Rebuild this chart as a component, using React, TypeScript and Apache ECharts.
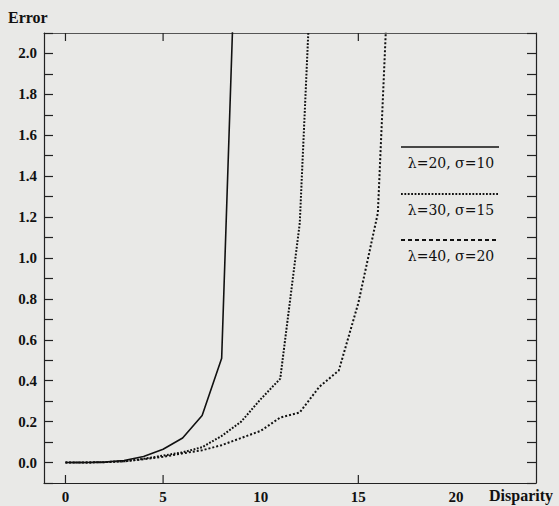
import React, { useEffect, useRef } from 'react';
import * as echarts from 'echarts';

// Disparity values (x) shared by all curves
const disparity = [0, 1, 2, 3, 4, 5, 6, 7, 8, 9, 10, 11, 12, 13, 14, 15, 16, 17];

// Error values (last points run off the top and are clipped)
const errL20 = [0, 0, 0.002, 0.01, 0.03, 0.065, 0.12, 0.23, 0.51, 3.4];
const errL30 = [0, 0, 0.002, 0.006, 0.018, 0.034, 0.05, 0.075, 0.13, 0.2, 0.31, 0.41, 1.17, 3.3];
const errL40 = [0, 0, 0.002, 0.006, 0.016, 0.028, 0.045, 0.06, 0.085, 0.12, 0.155, 0.22, 0.245, 0.37, 0.45, 0.78, 1.22, 3.4];

const seriesNames = ['λ=20, σ=10', 'λ=30, σ=15', 'λ=40, σ=20'];
const xLabelValues = [0, 5, 10, 15, 20];
const xTickValues = [0, 5, 15];

const X_MIN = -1.1;
const X_MAX = 24.1;
const Y_MIN = -0.1;
const Y_MAX = 2.1;

const toPairs = (vals: number[]) => vals.map((v, i) => [disparity[i], v]);

const labelFont = {
  fontFamily: '"Liberation Serif", serif',
  fontWeight: 'bold' as const,
  fontSize: 15,
  color: '#111',
};

export default function App() {
  const ref = useRef<HTMLDivElement>(null);
  useEffect(() => {
    const chart = echarts.init(ref.current!, null, { renderer: 'svg' });
    const lineStyles = [
      { color: '#111', width: 1.6, type: 'solid' as any },
      { color: '#111', width: 2, type: [1.8, 1.6] as any },
      { color: '#111', width: 2, type: [2, 2] as any },
    ];
    const legendDash: any[] = [null, [1.8, 1.6], [4, 3]];
    const legendY = [147, 194, 240];
    const graphics: any[] = [
      {
        type: 'text', x: 8, y: 17,
        style: { text: 'Error', fontFamily: '"Liberation Serif", serif', fontWeight: 'bold', fontSize: 16, fill: '#111', verticalAlign: 'middle', align: 'left' },
      },
      {
        type: 'text', x: 489, y: 495,
        style: { text: 'Disparity', fontFamily: '"Liberation Serif", serif', fontWeight: 'bold', fontSize: 16, fill: '#111', verticalAlign: 'middle', align: 'left' },
      },
    ];
    seriesNames.forEach((name, i) => {
      graphics.push({
        type: 'line',
        shape: { x1: 401, y1: legendY[i], x2: 499, y2: legendY[i] },
        style: { stroke: '#111', lineWidth: i === 0 ? 1.6 : 2, lineDash: legendDash[i] || undefined },
      });
      graphics.push({
        type: 'text', x: 451, y: legendY[i] + 16,
        style: { text: name, fontFamily: '"DejaVu Serif", serif', fontSize: 14, fill: '#111', align: 'center', verticalAlign: 'middle' },
      });
    });

    const yCommon = {
      type: 'value' as const,
      min: Y_MIN,
      max: Y_MAX,
      interval: 0.1,
      axisLine: { show: true, onZero: false, lineStyle: { color: '#222', width: 1.2 } },
      axisTick: { show: true, inside: true, length: 9, lineStyle: { color: '#222', width: 1.2 } },
      splitLine: { show: false },
    };
    const xMain = {
      type: 'value' as const,
      min: X_MIN,
      max: X_MAX,
      axisLine: { show: true, onZero: false, lineStyle: { color: '#222', width: 1.2 } },
      axisTick: { show: false },
      splitLine: { show: false },
    };

    // x-axis tick marks (bottom & top, pointing inward), placed via the axis scale
    const tickSeries = {
      type: 'custom',
      silent: true,
      clip: false,
      xAxisIndex: 0,
      yAxisIndex: 0,
      data: xTickValues.map((v) => [v]),
      encode: { x: 0 },
      renderItem: (_params: any, api: any) => {
        const b = api.coord([api.value(0), Y_MIN]);
        const t = api.coord([api.value(0), Y_MAX]);
        const st = { stroke: '#222', lineWidth: 1.2 };
        return {
          type: 'group',
          children: [
            { type: 'line', shape: { x1: b[0], y1: b[1], x2: b[0], y2: b[1] - 8 }, style: st },
            { type: 'line', shape: { x1: t[0], y1: t[1], x2: t[0], y2: t[1] + 8 }, style: st },
          ],
        };
      },
    };

    chart.setOption({
      animation: false,
      backgroundColor: '#e9e9e7',
      grid: { left: 44, right: 23, top: 33, bottom: 23, containLabel: false },
      xAxis: [
        {
          ...xMain,
          position: 'bottom',
          axisLabel: { ...labelFont, margin: 6, customValues: xLabelValues, formatter: (v: number) => String(v) },
        },
        {
          ...xMain,
          position: 'top',
          axisLine: { show: true, onZero: false, lineStyle: { color: '#555', width: 1.2 } },
          axisLabel: { show: false },
        },
      ],
      yAxis: [
        {
          ...yCommon,
          position: 'left',
          axisLabel: {
            ...labelFont,
            margin: 7,
            formatter: (v: number) => {
              const k = Math.round(v * 10);
              return k >= 0 && k % 2 === 0 ? (k / 10).toFixed(1) : '';
            },
          },
        },
        {
          ...yCommon,
          position: 'right',
          axisLabel: { show: false },
        },
      ],
      graphic: graphics,
      series: [
        ...[errL20, errL30, errL40].map((vals, i) => ({
          name: seriesNames[i],
          type: 'line',
          xAxisIndex: 0,
          yAxisIndex: 0,
          data: toPairs(vals),
          symbol: 'none',
          clip: true,
          lineStyle: lineStyles[i],
        })),
        tickSeries,
      ],
    });
    return () => chart.dispose();
  }, []);
  return (
    <div
      ref={ref}
      style={{ position: 'fixed', left: 0, top: 0, width: 559, height: 506, background: '#e9e9e7' }}
    />
  );
}
